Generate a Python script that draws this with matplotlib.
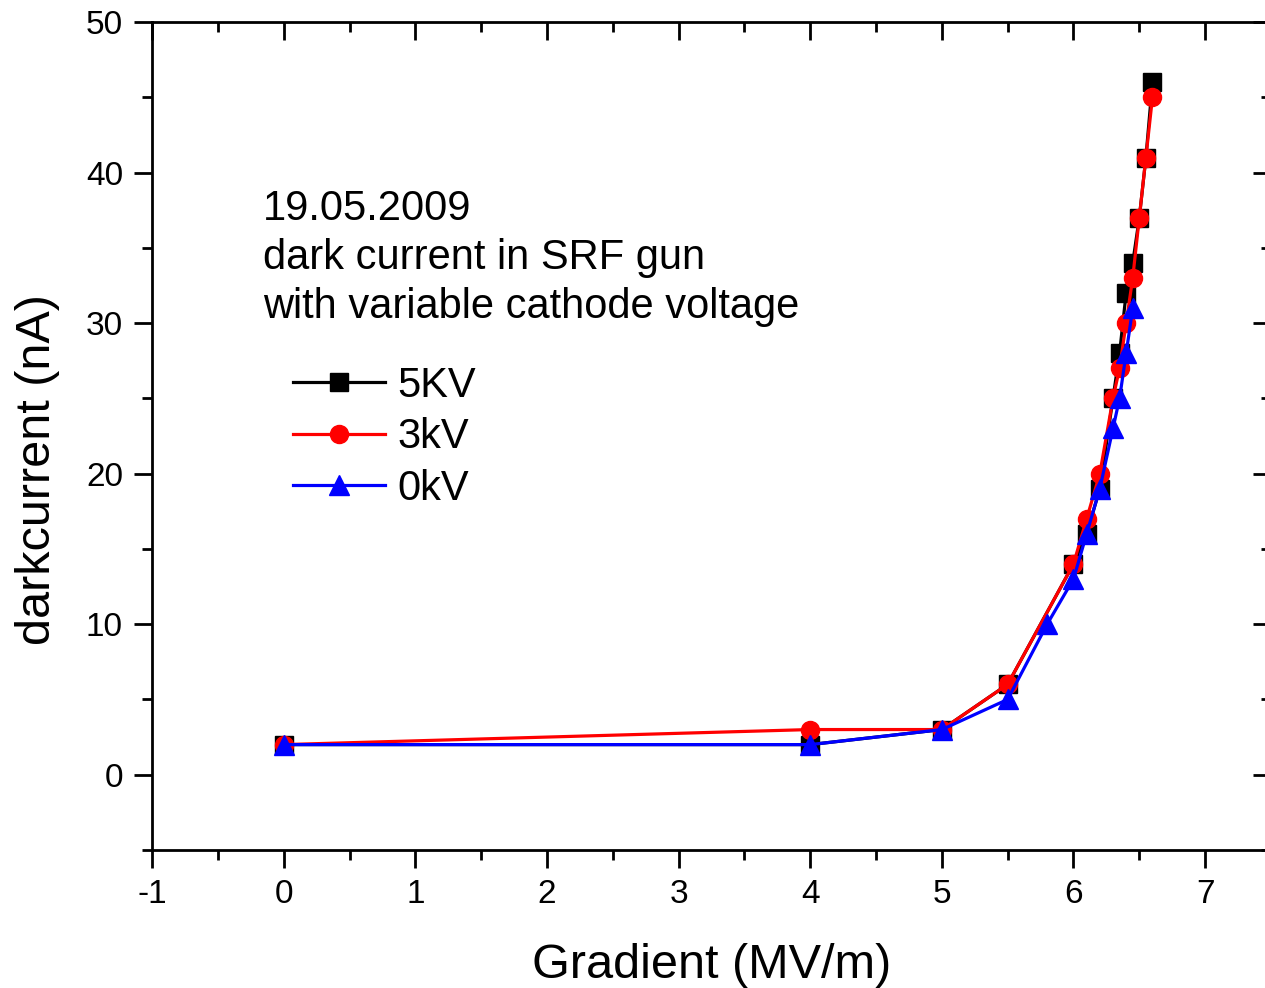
import matplotlib
matplotlib.use('Agg')
import matplotlib.pyplot as plt
from matplotlib.ticker import MultipleLocator

plt.rcParams['font.family'] = ['Liberation Sans', 'DejaVu Sans']
plt.rcParams['axes.unicode_minus'] = False

# 5KV
x_5kv = [0, 4, 5, 5.5, 6, 6.1, 6.2, 6.3, 6.35, 6.4, 6.45, 6.5, 6.55, 6.6]
y_5kv = [2, 2, 3, 6, 14, 16, 19, 25, 28, 32, 34, 37, 41, 46]
# 3kV
x_3kv = [0, 4, 5, 5.5, 6, 6.1, 6.2, 6.3, 6.35, 6.4, 6.45, 6.5, 6.55, 6.6]
y_3kv = [2, 3, 3, 6, 14, 17, 20, 25, 27, 30, 33, 37, 41, 45]
# 0kV
x_0kv = [0, 4, 5, 5.5, 5.8, 6, 6.1, 6.2, 6.3, 6.35, 6.4, 6.45]
y_0kv = [2, 2, 3, 5, 10, 13, 16, 19, 23, 25, 28, 31]

fig = plt.figure(figsize=(12.65, 9.88), dpi=100)
ax = fig.add_axes([0.1202, 0.1397, 0.8845, 0.838])

ax.plot(x_5kv, y_5kv, color='black', lw=2.3, marker='s', ms=13, label='5KV')
ax.plot(x_3kv, y_3kv, color='red', lw=2.3, marker='o', ms=13, label='3kV')
ax.plot(x_0kv, y_0kv, color='blue', lw=2.3, marker='^', ms=14, label='0kV')

ax.set_xlim(-1, 7.5)
ax.set_ylim(-5, 50)
ax.xaxis.set_major_locator(MultipleLocator(1))
ax.xaxis.set_minor_locator(MultipleLocator(0.5))
ax.yaxis.set_major_locator(MultipleLocator(10))
ax.yaxis.set_minor_locator(MultipleLocator(5))

for s in ax.spines.values():
    s.set_linewidth(2)

ax.tick_params(which='both', direction='out', width=2, labelsize=24, pad=8)
ax.tick_params(which='major', length=13)
ax.tick_params(which='minor', length=7)
ax.tick_params(which='both', top=True, right=True)
# ticks on top and right point inward
for t in ax.xaxis.get_major_ticks() + ax.xaxis.get_minor_ticks():
    t.tick2line.set_marker(3)
for t in ax.yaxis.get_major_ticks() + ax.yaxis.get_minor_ticks():
    t.tick2line.set_marker(0)

ax.set_xlabel('Gradient (MV/m)', fontsize=35, labelpad=24)
ax.set_ylabel('darkcurrent (nA)', fontsize=35)
ax.yaxis.set_label_coords(-0.082, 0.459)

ax.text(0.099, 0.715, '19.05.2009\ndark current in SRF gun\nwith variable cathode voltage',
        transform=ax.transAxes, fontsize=30, linespacing=1.3, va='center', ha='left')

ax.legend(loc='upper left', bbox_to_anchor=(0.126, 0.585), frameon=False, fontsize=30,
          handlelength=2.2, handletextpad=0.3, labelspacing=0.28, borderpad=0,
          borderaxespad=0)

fig.savefig('out.png', dpi=100)
